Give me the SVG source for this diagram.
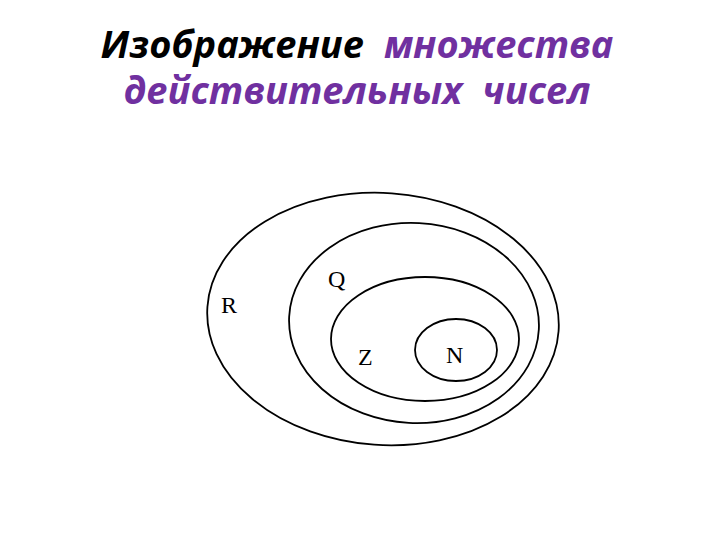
<svg xmlns="http://www.w3.org/2000/svg" width="720" height="540" viewBox="0 0 720 540">
<style>
.t{font-family:"Open Sans","Noto Sans","DejaVu Sans",sans-serif;font-style:italic;font-weight:bold;font-size:38px}
.p{fill:#7030A0}
.k{fill:#000}
.e{fill:none;stroke:#000;stroke-width:1.8}
.l{font-family:"Liberation Serif","Times New Roman",serif;font-size:24px;fill:#000}
</style>
<rect width="720" height="540" fill="#fff"/>
<g id="title">
<text class="t" x="357" y="58" text-anchor="middle" xml:space="preserve"><tspan class="k">Изображение</tspan><tspan class="p">  множества</tspan></text>
<text class="t p" x="357" y="104" text-anchor="middle" xml:space="preserve">действительных  чисел</text>
</g>
<g id="R"><ellipse class="e" cx="383" cy="319" rx="176" ry="126" transform="rotate(4 383 319)"/><text class="l" x="221" y="313">R</text></g>
<g id="Q"><ellipse class="e" cx="414" cy="323" rx="125" ry="100" transform="rotate(3 414 323)"/><text class="l" x="328" y="287">Q</text></g>
<g id="Z"><ellipse class="e" cx="425" cy="339" rx="94" ry="62"/><text class="l" x="358" y="365">Z</text></g>
<g id="N"><ellipse class="e" cx="456" cy="350" rx="41" ry="31"/><text class="l" x="446" y="363">N</text></g>
</svg>
